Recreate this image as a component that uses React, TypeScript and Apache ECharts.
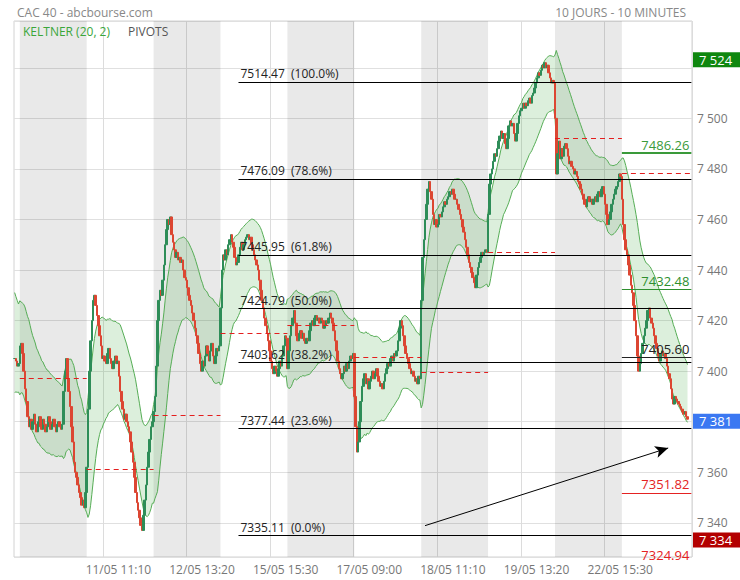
import { useEffect, useRef } from "react";
import * as echarts from "echarts";

// ---------- data ----------
const days = ["09/05", "10/05", "11/05", "12/05", "15/05", "16/05", "17/05", "18/05", "19/05", "22/05", "23/05"];
const slotsPerDay = 52; // 09:00 .. 17:30, 10-minute candles
const emptySlots = 3;

const c0905 = [7405, 7404, 7402, 7403];
const wu0905 = [2, 2, 2, 2];
const wd0905 = [2, 2, 2, 2];

const c1005 = [7410, 7411, 7407, 7400, 7393, 7388, 7382, 7378, 7381, 7377,
  7380, 7383, 7379, 7376, 7380, 7382, 7378, 7377, 7381, 7379,
  7376, 7378, 7382, 7380, 7377, 7379, 7381, 7378, 7376, 7379,
  7380, 7378, 7377, 7379, 7392, 7400, 7405, 7397, 7392, 7386,
  7378, 7372, 7364, 7360, 7358, 7355, 7352, 7350, 7347, 7349,
  7346, 7352];
const wu1005 = [6, 3, 2, 2, 2, 2, 2, 2, 3, 2, 3, 3, 2, 2, 3, 2, 2, 2, 3, 2, 2, 3, 2, 2, 2, 3, 2, 2, 2, 2, 2, 2, 2, 2, 3, 3, 2, 2, 2, 2, 2, 2, 2, 2, 2, 2, 2, 2, 2, 2, 2, 3];
const wd1005 = [2, 2, 2, 2, 2, 2, 3, 9, 2, 3, 2, 2, 3, 2, 2, 2, 3, 3, 2, 2, 3, 2, 2, 2, 3, 2, 2, 3, 2, 2, 2, 3, 2, 2, 2, 2, 2, 2, 2, 2, 3, 2, 3, 2, 3, 2, 8, 3, 9, 2, 3, 2];

const c1105 = [7362, 7385, 7400, 7412, 7420, 7428, 7430, 7426, 7422, 7418,
  7414, 7410, 7405, 7406, 7404, 7403, 7407, 7409, 7405, 7403,
  7401, 7404, 7406, 7403, 7404, 7398, 7392, 7388, 7385, 7381,
  7383, 7380, 7378, 7376, 7372, 7368, 7364, 7358, 7352, 7348,
  7345, 7342, 7339, 7337, 7343, 7349, 7355, 7362, 7368, 7373,
  7378, 7380];
const wu1105 = [3, 4, 4, 3, 3, 3, 7, 3, 2, 2, 2, 2, 2, 3, 2, 2, 3, 2, 2, 2, 2, 2, 3, 2, 2, 2, 2, 2, 2, 2, 3, 2, 2, 2, 2, 2, 2, 2, 2, 2, 2, 2, 2, 2, 3, 3, 3, 3, 2, 2, 2, 2];
const wd1105 = [2, 3, 3, 2, 2, 2, 2, 2, 2, 2, 2, 2, 3, 2, 3, 2, 2, 2, 3, 3, 3, 2, 2, 2, 2, 2, 3, 2, 3, 3, 2, 3, 2, 2, 3, 2, 2, 3, 3, 2, 3, 3, 2, 3, 2, 2, 2, 2, 2, 2, 2, 2];

const c1205 = [7384, 7390, 7402, 7420, 7428, 7432, 7430, 7436, 7442, 7450,
  7456, 7460, 7458, 7461, 7454, 7451, 7448, 7445, 7447, 7444,
  7445, 7443, 7444, 7440, 7437, 7436, 7433, 7430, 7428, 7426,
  7423, 7420, 7417, 7414, 7411, 7407, 7403, 7400, 7404, 7402,
  7406, 7410, 7407, 7404, 7408, 7411, 7406, 7403, 7406, 7409,
  7408, 7410];
const wu1205 = [2, 3, 4, 6, 3, 3, 3, 3, 3, 3, 3, 3, 2, 3, 2, 2, 2, 2, 2, 2, 2, 2, 2, 2, 2, 2, 2, 2, 2, 2, 2, 2, 2, 2, 2, 2, 2, 2, 2, 2, 3, 3, 2, 2, 3, 2, 2, 2, 2, 2, 2, 2];
const wd1205 = [12, 3, 3, 3, 3, 3, 3, 2, 2, 2, 2, 2, 2, 2, 2, 2, 2, 2, 2, 2, 2, 2, 2, 2, 2, 2, 2, 2, 2, 2, 2, 2, 2, 2, 2, 2, 3, 4, 3, 3, 2, 2, 3, 2, 2, 2, 3, 3, 2, 2, 2, 2];

const c1505 = [7425, 7440, 7446, 7444, 7448, 7446, 7450, 7452, 7454, 7451,
  7449, 7445, 7442, 7443, 7446, 7449, 7451, 7448, 7450, 7452,
  7453, 7454, 7452, 7453, 7450, 7448, 7446, 7444, 7442, 7440,
  7436, 7432, 7428, 7425, 7421, 7418, 7415, 7412, 7408, 7404,
  7401, 7399, 7402, 7400, 7398, 7401, 7404, 7402, 7406, 7410,
  7414, 7413];
const wu1505 = [3, 3, 3, 3, 3, 3, 2, 2, 2, 2, 2, 2, 2, 3, 2, 2, 3, 2, 2, 2, 2, 2, 2, 2, 2, 2, 2, 2, 2, 2, 2, 2, 2, 2, 2, 2, 2, 2, 2, 2, 2, 2, 2, 2, 2, 2, 2, 2, 2, 2, 2, 2];
const wd1505 = [3, 2, 4, 3, 2, 3, 2, 2, 2, 2, 2, 2, 4, 2, 2, 2, 2, 2, 2, 2, 2, 2, 2, 2, 2, 2, 2, 2, 2, 2, 2, 2, 2, 2, 2, 2, 2, 2, 2, 3, 2, 3, 2, 2, 3, 2, 2, 2, 2, 2, 2, 2];

const c1605 = [7401, 7408, 7414, 7418, 7421, 7424, 7419, 7414, 7412, 7415,
  7416, 7413, 7415, 7412, 7411, 7413, 7412, 7416, 7419, 7420,
  7418, 7421, 7422, 7420, 7421, 7419, 7421, 7420, 7417, 7418,
  7420, 7419, 7421, 7423, 7421, 7419, 7416, 7412, 7408, 7404,
  7401, 7399, 7397, 7399, 7402, 7400, 7403, 7401, 7404, 7406,
  7405, 7407];
const wu1605 = [2, 2, 2, 3, 2, 2, 2, 3, 2, 2, 3, 2, 2, 3, 2, 2, 3, 2, 2, 3, 2, 2, 3, 2, 2, 3, 2, 2, 3, 2, 2, 2, 2, 2, 2, 2, 2, 2, 2, 2, 2, 2, 2, 3, 2, 2, 3, 2, 2, 2, 2, 2];
const wd1605 = [10, 2, 2, 2, 2, 2, 2, 3, 2, 2, 2, 3, 2, 2, 3, 2, 2, 2, 3, 2, 2, 3, 2, 2, 2, 3, 2, 2, 2, 3, 2, 2, 2, 2, 2, 2, 2, 2, 2, 2, 2, 3, 3, 2, 2, 3, 2, 2, 2, 2, 2, 2];

const c1705 = [7390, 7378, 7368, 7372, 7380, 7388, 7394, 7397, 7399, 7395,
  7397, 7393, 7396, 7398, 7400, 7397, 7399, 7401, 7398, 7396,
  7394, 7395, 7393, 7396, 7399, 7401, 7403, 7402, 7405, 7406,
  7404, 7407, 7406, 7408, 7412, 7417, 7420, 7418, 7414, 7410,
  7407, 7405, 7403, 7401, 7399, 7400, 7398, 7396, 7397, 7395,
  7398, 7397];
const wu1705 = [2, 2, 2, 2, 2, 2, 2, 3, 4, 3, 2, 2, 2, 2, 3, 2, 2, 3, 2, 2, 2, 2, 2, 3, 2, 2, 2, 2, 3, 2, 2, 2, 2, 2, 2, 2, 3, 2, 2, 2, 2, 2, 2, 2, 2, 2, 2, 2, 2, 2, 2, 2];
const wd1705 = [2, 3, 13, 2, 2, 2, 2, 2, 2, 6, 2, 5, 2, 2, 2, 2, 3, 2, 2, 3, 3, 2, 3, 2, 2, 2, 2, 2, 2, 2, 2, 2, 2, 2, 2, 2, 2, 2, 2, 2, 2, 2, 2, 2, 2, 2, 3, 2, 2, 3, 2, 2];

const c1805 = [7428, 7445, 7452, 7460, 7466, 7472, 7475, 7471, 7468, 7462,
  7458, 7460, 7457, 7458, 7462, 7461, 7463, 7465, 7467, 7466,
  7468, 7469, 7471, 7470, 7472, 7470, 7468, 7468, 7466, 7464,
  7462, 7460, 7457, 7455, 7452, 7449, 7446, 7443, 7441, 7439,
  7437, 7435, 7433, 7438, 7441, 7443, 7445, 7447, 7446, 7447,
  7448, 7447];
const wu1805 = [3, 3, 3, 3, 3, 3, 7, 2, 2, 2, 2, 2, 2, 2, 2, 2, 2, 2, 2, 2, 2, 2, 3, 2, 4, 2, 2, 2, 2, 2, 2, 2, 2, 2, 2, 2, 2, 2, 2, 2, 2, 2, 2, 2, 2, 2, 2, 2, 2, 2, 2, 2];
const wd1805 = [2, 3, 3, 2, 2, 2, 2, 2, 2, 2, 2, 2, 3, 2, 2, 2, 2, 2, 2, 2, 2, 2, 2, 2, 2, 2, 2, 2, 2, 2, 2, 2, 2, 2, 2, 2, 2, 2, 2, 2, 2, 2, 6, 2, 2, 2, 2, 2, 2, 2, 2, 2];

const c1905 = [7462, 7474, 7478, 7480, 7483, 7486, 7485, 7488, 7491, 7493,
  7495, 7492, 7494, 7490, 7488, 7492, 7497, 7499, 7497, 7498,
  7494, 7491, 7494, 7498, 7501, 7503, 7504, 7506, 7504, 7506,
  7505, 7507, 7508, 7506, 7509, 7510, 7512, 7514, 7516, 7518,
  7517, 7519, 7521, 7520, 7522, 7520, 7521, 7518, 7516, 7514,
  7515, 7514];
const wu1905 = [3, 3, 2, 2, 2, 2, 2, 2, 2, 2, 4, 2, 2, 2, 2, 2, 2, 4, 2, 2, 2, 2, 2, 2, 2, 2, 2, 4, 2, 2, 2, 2, 2, 2, 2, 2, 2, 2, 2, 2, 2, 1, 1, 1, 2, 1, 1, 1, 1, 1, 1, 1];
const wd1905 = [2, 2, 2, 2, 2, 2, 2, 2, 2, 2, 2, 2, 2, 3, 2, 2, 2, 2, 2, 2, 3, 2, 2, 2, 2, 2, 2, 2, 2, 2, 2, 2, 2, 2, 2, 2, 2, 2, 2, 2, 2, 2, 2, 2, 2, 2, 2, 2, 2, 2, 2, 2];

const c2205 = [7500, 7478, 7486, 7491, 7484, 7488, 7485, 7489, 7490, 7488,
  7485, 7482, 7483, 7481, 7480, 7478, 7479, 7477, 7475, 7474,
  7472, 7470, 7468, 7466, 7465, 7468, 7469, 7467, 7468, 7466,
  7468, 7469, 7467, 7470, 7471, 7469, 7472, 7473, 7470, 7466,
  7462, 7458, 7460, 7463, 7466, 7468, 7470, 7472, 7473, 7475,
  7478, 7477];
const wu2205 = [0, 2, 2, 2, 2, 3, 2, 2, 2, 2, 2, 2, 3, 2, 2, 2, 2, 2, 2, 2, 2, 2, 2, 2, 2, 3, 2, 2, 2, 3, 2, 2, 2, 2, 2, 3, 2, 2, 2, 2, 2, 2, 2, 2, 2, 2, 2, 2, 2, 2, 1, 2];
const wd2205 = [2, 9, 2, 2, 2, 2, 2, 2, 2, 2, 2, 2, 2, 2, 2, 2, 2, 2, 2, 2, 2, 2, 2, 4, 2, 2, 2, 3, 2, 2, 2, 2, 3, 2, 2, 2, 2, 2, 2, 2, 2, 4, 2, 2, 2, 2, 2, 2, 2, 2, 2, 2];

const c2305 = [7468, 7458, 7452, 7448, 7446, 7442, 7438, 7434, 7431, 7426,
  7420, 7414, 7406, 7400, 7403, 7407, 7411, 7414, 7417, 7420,
  7424, 7425, 7421, 7419, 7417, 7414, 7411, 7409, 7406, 7404,
  7407, 7408, 7406, 7407, 7405, 7402, 7399, 7397, 7393, 7389,
  7387, 7390, 7389, 7388, 7387, 7386, 7385, 7384, 7383, 7384,
  7382, 7381];
const wu2305 = [1, 2, 2, 2, 2, 2, 2, 2, 2, 2, 2, 2, 2, 2, 2, 2, 2, 2, 2, 2, 2, 2, 2, 2, 2, 2, 2, 2, 2, 2, 2, 2, 2, 2, 2, 2, 2, 2, 2, 2, 2, 2, 2, 2, 2, 2, 2, 2, 2, 2, 2, 2];
const wd2305 = [2, 2, 2, 2, 2, 2, 2, 2, 2, 2, 2, 2, 2, 2, 2, 2, 2, 2, 2, 2, 2, 2, 2, 2, 2, 2, 2, 2, 2, 2, 2, 2, 2, 2, 2, 2, 2, 2, 2, 4, 2, 2, 2, 2, 2, 2, 2, 2, 2, 2, 2, 1];

const closeByDay = [c0905, c1005, c1105, c1205, c1505, c1605, c1705, c1805, c1905, c2205, c2305];
const wickUpByDay = [wu0905, wu1005, wu1105, wu1205, wu1505, wu1605, wu1705, wu1805, wu1905, wu2205, wu2305];
const wickDownByDay = [wd0905, wd1005, wd1105, wd1205, wd1505, wd1605, wd1705, wd1805, wd1905, wd2205, wd2305];

// red dashed daily pivot level, one per day from 10/05 to 23/05
const dailyPivot = [7397.1, 7361.2, 7382.5, 7414.9, 7418.2, 7405.7, 7399.7, 7446.9, 7492.0, 7478.1];

// Fibonacci retracement
const fibValues = [7514.47, 7476.09, 7445.95, 7424.79, 7403.62, 7377.44, 7335.11];
const fibPercents = ["100.0%", "78.6%", "61.8%", "50.0%", "38.2%", "23.6%", "0.0%"];
const fibFrom = "15/05 11:20";

// current-day pivot levels (R2, R1, P, S1, S2)
const pivotLevels = [7486.26, 7432.48, 7405.6, 7351.82, 7324.94];
const pivotColors = ["#3a9a3a", "#2e8f2e", "#222222", "#e42222", "#e42222"];

// trend arrow
const arrowFrom: [string, number] = ["18/05 09:30", 7338.9];
const arrowTo: [string, number] = ["23/05 15:00", 7369.6];

// Keltner seed (state before the first visible candle)
const keltnerSeed = [7412, 10.5];
const keltnerPeriod = 20;
const keltnerMult = 2;

// x tick labels, y range
const xTickLabels = ["11/05 11:10", "12/05 13:20", "15/05 15:30", "17/05 09:00", "18/05 11:10", "19/05 13:20", "22/05 15:30"];
const yMin = 7326.5;
const yMax = 7538.5;

const FONT = "'Open Sans', 'DejaVu Sans', sans-serif";

function fmtThousands(v: number) {
  return String(Math.round(v)).replace(/\B(?=(\d{3})+(?!\d))/g, " ");
}

export default function App() {
  const ref = useRef<HTMLDivElement>(null);

  useEffect(() => {
    const chart = echarts.init(ref.current!, undefined, { renderer: "svg" });

    const times: string[] = [];
    for (let k = 0; k < slotsPerDay; k++) {
      const m = 540 + 10 * k;
      times.push(String(Math.floor(m / 60)).padStart(2, "0") + ":" + String(m % 60).padStart(2, "0"));
    }
    const cats: string[] = [];
    const dayStart: number[] = [];
    days.forEach((d, di) => {
      dayStart.push(cats.length);
      const n = closeByDay[di].length;
      for (let k = slotsPerDay - n; k < slotsPerDay; k++) cats.push(d + " " + times[k]);
    });
    for (let e = 0; e < emptySlots; e++) cats.push("~" + e);
    const lastCat = cats[cats.length - 1];

    const body: number[][] = [];
    const wick: number[][] = [];
    let prev: number | null = null;
    closeByDay.forEach((cs, di) => {
      cs.forEach((c, k) => {
        const o = prev == null ? c : prev;
        const hi = Math.max(o, c) + wickUpByDay[di][k];
        const lo = Math.min(o, c) - wickDownByDay[di][k];
        body.push([o, c, Math.min(o, c), Math.max(o, c)]);
        wick.push([lo, hi, lo, hi]);
        prev = c;
      });
    });

    // Keltner channel: EMA(close) +/- mult * ATR
    const alpha = 2 / (keltnerPeriod + 1);
    let ema = keltnerSeed[0];
    let atr = keltnerSeed[1];
    let pc: number | null = null;
    const lower: number[] = [];
    const width: number[] = [];
    body.forEach((b, i) => {
      const c = b[1];
      const h = wick[i][3];
      const l = wick[i][2];
      const tr = pc == null ? h - l : Math.max(h - l, Math.abs(h - pc), Math.abs(l - pc));
      ema += alpha * (c - ema);
      atr += alpha * (tr - atr);
      lower.push(+(ema - keltnerMult * atr).toFixed(2));
      width.push(+(2 * keltnerMult * atr).toFixed(2));
      pc = c;
    });

    const maxHigh = Math.max(...wick.map((w) => w[3]));
    const minLow = Math.min(...wick.map((w) => w[2]));
    const lastClose = body[body.length - 1][1];
    const boxValues = [maxHigh, lastClose, minLow];

    // shaded alternate days
    const shade: any[] = [];
    for (let di = 1; di < days.length; di += 2) {
      const to = di + 1 < days.length ? cats[dayStart[di + 1]] : lastCat;
      shade.push([{ xAxis: cats[dayStart[di]] }, { xAxis: to }]);
    }

    const lines: any[] = [];
    dailyPivot.forEach((v, j) => {
      const di = j + 1;
      const to = di + 1 < days.length ? cats[dayStart[di + 1]] : lastCat;
      lines.push([
        { coord: [cats[dayStart[di]], v], lineStyle: { color: "#e41e1e", width: 1, type: [5, 4] }, label: { show: false } },
        { coord: [to, v] },
      ]);
    });
    fibValues.forEach((v, i) => {
      lines.push([
        {
          coord: [fibFrom, v],
          lineStyle: { color: "#000", width: 1, type: "solid" },
          label: {
            show: true,
            position: "insideStartTop",
            distance: 2,
            formatter: v.toFixed(2) + "  (" + fibPercents[i] + ")",
            color: "#222",
            fontSize: 12,
            fontFamily: FONT,
          },
        },
        { coord: [lastCat, v] },
      ]);
    });
    const outside: { v: number; color: string }[] = [];
    pivotLevels.forEach((v, i) => {
      if (v < yMin || v > yMax) {
        outside.push({ v, color: pivotColors[i] });
        return;
      }
      lines.push([
        {
          coord: [cats[dayStart[days.length - 1]], v],
          lineStyle: { color: pivotColors[i], width: i === 0 ? 2 : 1, type: "solid" },
          label: {
            show: true,
            position: "insideEndTop",
            distance: 2,
            formatter: v.toFixed(2),
            color: pivotColors[i],
            fontSize: 13,
            fontFamily: FONT,
          },
        },
        { coord: [lastCat, v] },
      ]);
    });
    lines.push([
      { coord: arrowFrom, symbol: "none", lineStyle: { color: "#000", width: 1, type: "solid" }, label: { show: false } },
      { coord: arrowTo, symbol: "arrow", symbolSize: [9, 13] },
    ]);

    const box = (v: number, bg: string) => ({
      yAxis: v,
      lineStyle: { width: 0, color: "rgba(0,0,0,0)" },
      label: {
        show: true,
        position: "end",
        distance: 1,
        offset: [0, 2],
        formatter: fmtThousands(v),
        color: "#fff",
        backgroundColor: bg,
        padding: [1, 12, 0, 6],
        lineHeight: 14,
        fontSize: 13,
        fontFamily: FONT,
      },
    });

    const showTick = (i: number, v: string) => xTickLabels.indexOf(v) >= 0;

    const option: any = {
      animation: false,
      backgroundColor: "#fff",
      textStyle: { fontFamily: FONT },
      title: [
        { text: "CAC 40 - abcbourse.com", left: 12, top: 1, textStyle: { fontSize: 12, fontWeight: "normal", color: "#888", fontFamily: FONT } },
        { text: "10 JOURS - 10 MINUTES", right: 49, top: 1, textStyle: { fontSize: 12, fontWeight: "normal", color: "#888", fontFamily: FONT } },
        { text: "KELTNER (20, 2)", left: 18, top: 20, textStyle: { fontSize: 12, fontWeight: "normal", color: "#3aa63a", fontFamily: FONT } },
        { text: "PIVOTS", left: 123, top: 20, textStyle: { fontSize: 12, fontWeight: "normal", color: "#555", fontFamily: FONT } },
      ],
      grid: { left: 14, right: 48, top: 21, bottom: 23, show: true, borderColor: "#d2d2d2", borderWidth: 1, backgroundColor: "transparent" },
      xAxis: {
        type: "category",
        data: cats,
        boundaryGap: true,
        axisLine: { show: false },
        axisTick: { show: false },
        axisLabel: { interval: showTick, color: "#777", fontSize: 12, margin: 6, padding: [0, 0, 0, 30], fontFamily: FONT },
        splitLine: { show: true, interval: showTick, lineStyle: { color: "#dcdcdc", width: 1 } },
      },
      yAxis: {
        type: "value",
        position: "right",
        min: yMin,
        max: yMax,
        splitNumber: 10,
        axisLine: { show: false },
        axisTick: { show: false },
        axisLabel: {
          showMinLabel: false,
          showMaxLabel: false,
          color: "#777",
          fontSize: 12,
          lineHeight: 12,
          margin: 5,
          fontFamily: FONT,
          // labels hidden behind the value boxes, as in the original
          formatter: (v: number) => (boxValues.some((b) => Math.abs(b - v) < 5) ? "" : fmtThousands(v)),
        },
        splitLine: { lineStyle: { color: "#e0e0e0", width: 1 } },
      },
      series: [
        {
          name: "kel-lower",
          type: "line",
          data: lower,
          stack: "kel",
          symbol: "none",
          z: 1,
          lineStyle: { color: "#56ad56", width: 1 },
          markArea: { silent: true, itemStyle: { color: "rgba(0,0,0,0.085)" }, data: shade },
          markLine: { silent: true, symbol: ["none", "none"], animation: false, data: lines },
        },
        {
          name: "kel-width",
          type: "line",
          data: width,
          stack: "kel",
          symbol: "none",
          z: 1,
          lineStyle: { color: "#56ad56", width: 1 },
          areaStyle: { color: "rgba(60,165,60,0.26)" },
        },
        {
          name: "wick",
          type: "candlestick",
          data: wick,
          barWidth: 1,
          z: 3,
          itemStyle: { color: "#5a5a5a", color0: "#5a5a5a", borderColor: "#5a5a5a", borderColor0: "#5a5a5a", borderWidth: 0 },
        },
        {
          name: "body",
          type: "candlestick",
          data: body,
          barWidth: 2,
          z: 4,
          itemStyle: { color: "#2e8d58", color0: "#dc4632", borderColor: "#2e8d58", borderColor0: "#dc4632", borderWidth: 1 },
          markLine: {
            silent: true,
            symbol: ["none", "none"],
            animation: false,
            data: [box(maxHigh, "#0f870f"), box(lastClose, "#3b78f2"), box(minLow, "#b30000")],
          },
        },
      ],
    };

    chart.setOption(option);

    // labels of pivot levels that fall just below the visible value range
    const graphics = outside.map((o) => {
      const p = chart.convertToPixel({ xAxisIndex: 0, yAxisIndex: 0 }, [cats.length - 1, o.v]) as number[];
      return {
        type: "text",
        x: p[0] - 2,
        y: p[1] - 6,
        z: 10,
        silent: true,
        style: { text: o.v.toFixed(2), fill: o.color, font: "13px " + FONT, align: "right", verticalAlign: "middle" },
      };
    });
    chart.setOption({ graphic: graphics });

    return () => chart.dispose();
  }, []);

  return <div ref={ref} style={{ position: "fixed", left: 0, top: 0, width: 740, height: 580, background: "#fff" }} />;
}
